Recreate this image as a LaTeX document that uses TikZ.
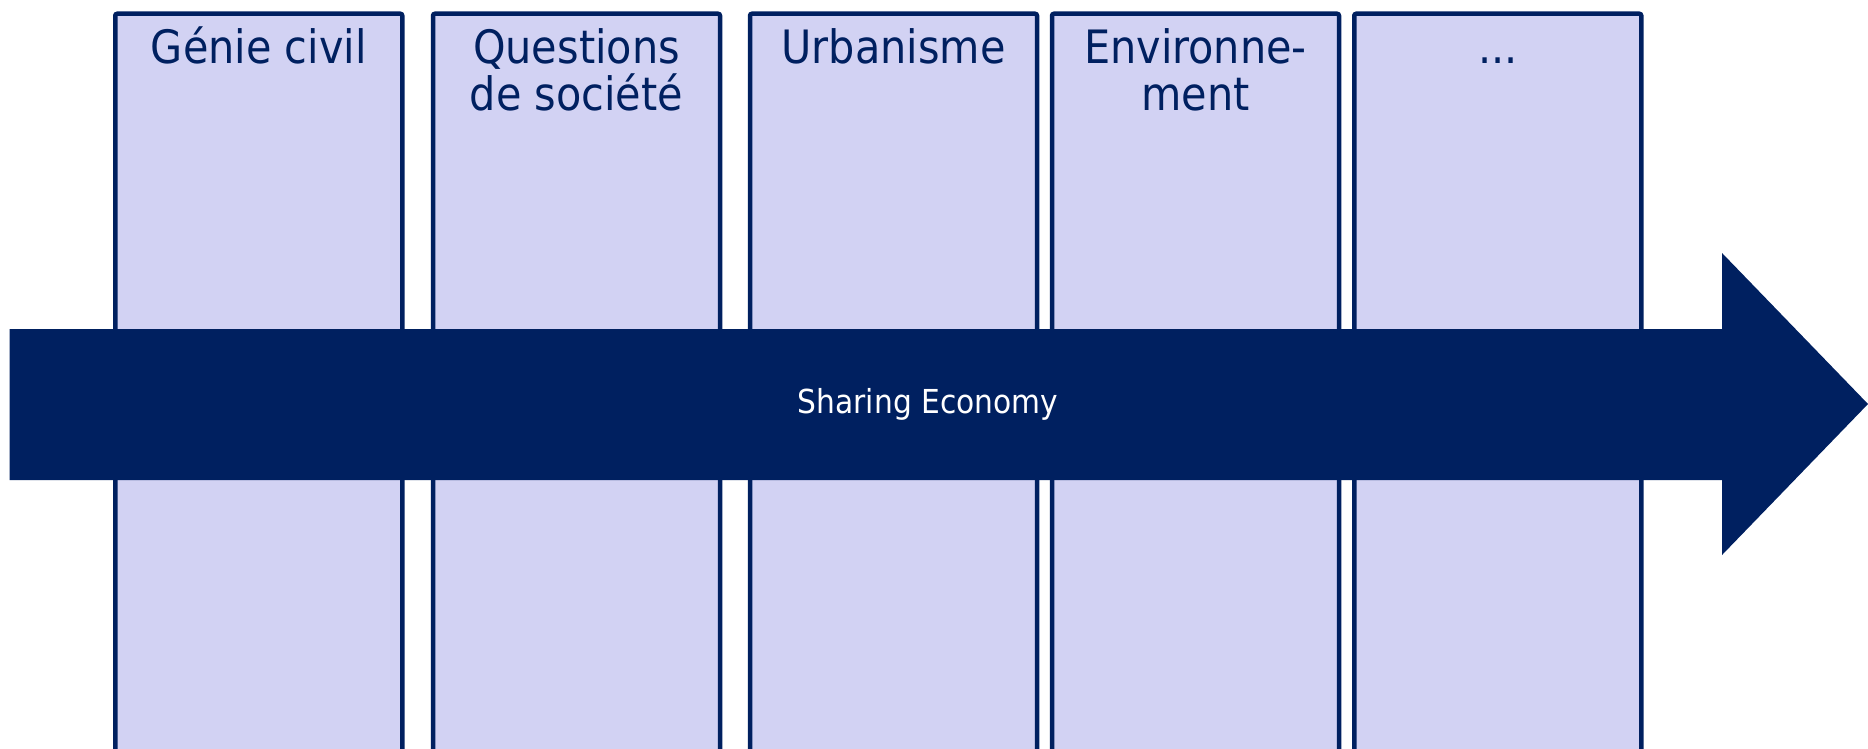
\documentclass[tikz,border=0pt]{standalone}
\usepackage{fontspec}
\setmainfont{DejaVu Sans Condensed}
\definecolor{navy}{RGB}{0,32,96}
\definecolor{lav}{RGB}{210,210,243}
\newcommand{\firstline}{\rule{0pt}{40pt}}
\tikzset{
  colbox/.style={draw=navy, fill=lav, line width=4.5pt, rounded corners=2pt,
    minimum width=287pt, minimum height=800pt, anchor=north, inner sep=0pt},
  coltext/.style={anchor=north, inner sep=0pt, align=center, text=navy,
    font=\fontsize{46}{47}\selectfont},
  arrowtext/.style={text=white, inner sep=0pt, font=\fontsize{33}{40}\selectfont}
}
\begin{document}
\begin{tikzpicture}[x=1pt,y=-1pt]
\useasboundingbox (0,0) rectangle (1868,749);
\clip (0,0) rectangle (1868,749);
\node[colbox] (c1) at (258.75,11.5) {};
\node[colbox] (c2) at (576.5,11.5) {};
\node[colbox] (c3) at (893.5,11.5) {};
\node[colbox] (c4) at (1195.5,11.5) {};
\node[colbox] (c5) at (1497.75,11.5) {};
\node[coltext] (t1) at ([yshift=-11.5pt]c1.north) {\firstline Génie civil};
\node[coltext] (t2) at ([yshift=-11.5pt]c2.north) {\firstline Questions\\de société};
\node[coltext] (t3) at ([yshift=-11.5pt]c3.north) {\firstline Urbanisme};
\node[coltext] (t4) at ([yshift=-11.5pt]c4.north) {\firstline Environne-\\ment};
\node[coltext] (t5) at ([yshift=-11.5pt]c5.north) {\firstline ...};
\fill[navy] (9.7,329) -- (1722,329) -- (1722,253) -- (1868,404)
  -- (1722,555) -- (1722,480) -- (9.7,480) -- cycle;
\node[arrowtext] (se) at (928,404) {Sharing Economy};
\end{tikzpicture}
\end{document}
